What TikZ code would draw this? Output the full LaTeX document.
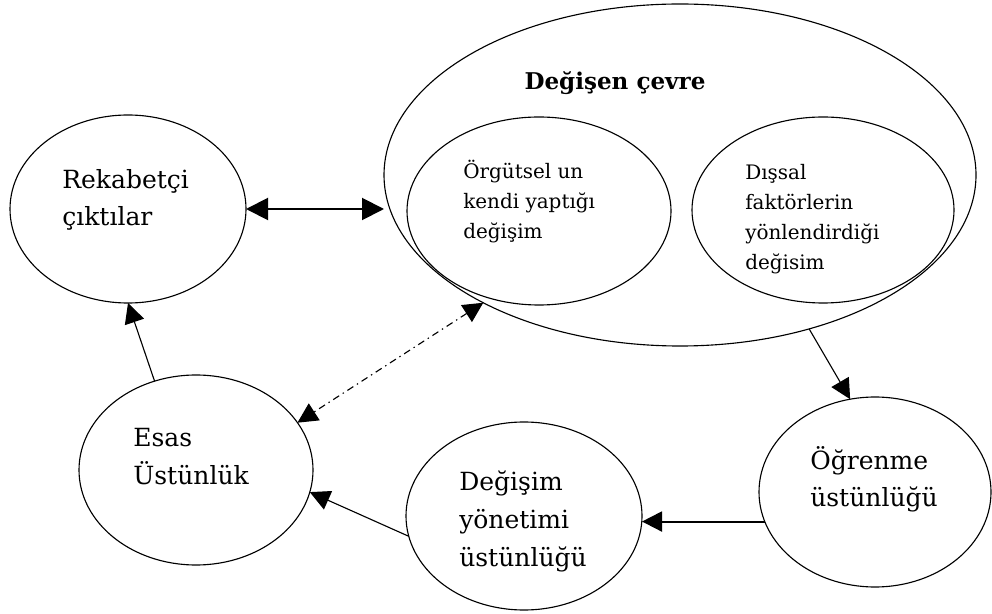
\documentclass[tikz,border=0pt]{standalone}
\usepackage{fontspec}
\setmainfont{DejaVu Serif}
\usetikzlibrary{shapes.geometric,arrows.meta}

\tikzset{
    oval/.style={draw,ellipse,line width=0.8pt,inner sep=0pt,outer sep=0pt},
    lbl/.style={anchor=north west,align=left,inner sep=0pt,font=\fontsize{17.8}{26.7}\selectfont},
    small/.style={anchor=north west,align=left,inner sep=0pt,font=\fontsize{14.2}{21.3}\selectfont},
    arr/.style={line width=0.8pt,-{Triangle[length=5mm,width=5mm]}},
    twoway/.style={line width=1.4pt,{Triangle[length=5.5mm,width=5.5mm]}-{Triangle[length=5.5mm,width=5.5mm]}}
}

\begin{document}
\begin{tikzpicture}
    \useasboundingbox (0,0) rectangle (24.8,15.325);
    % ellipses
    \node[oval,minimum width=5.9cm,minimum height=4.7cm] (rekabet) at (3.2,10.1) {};
    \node[oval,minimum width=14.8cm,minimum height=8.55cm] (cevre) at (17,10.95) {};
    \node[oval,minimum width=6.6cm,minimum height=4.7cm] (orgutsel) at (13.475,10.05) {};
    \node[oval,minimum width=6.55cm,minimum height=4.65cm] (dissal) at (20.575,10.075) {};
    \node[oval,minimum width=5.85cm,minimum height=4.75cm] (esas) at (4.9,3.575) {};
    \node[oval,minimum width=5.9cm,minimum height=4.7cm] (degisim) at (13.1,2.425) {};
    \node[oval,minimum width=5.8cm,minimum height=4.75cm] (ogrenme) at (21.875,3.025) {};

    % texts
    \node[lbl] (t-rekabet) at (1.55,11.1) {Rekabetçi\\çıktılar};
    \node[anchor=base,inner sep=0pt,font=\bfseries\fontsize{16.4}{20}\selectfont] (t-cevre) at (15.375,13.075) {Değişen çevre};
    \node[small] (t-orgutsel) at (11.575,11.325) {Örgütsel un\\kendi yaptığı\\değişim};
    \node[small] (t-dissal) at (18.625,11.225) {Dışsal\\faktörlerin\\yönlendirdiği\\değisim};
    \node[lbl] (t-esas) at (3.325,4.625) {Esas\\Üstünlük};
    \node[lbl] (t-degisim) at (11.475,3.55) {Değişim\\yönetimi\\üstünlüğü};
    \node[lbl] (t-ogrenme) at (20.25,4.175) {Öğrenme\\üstünlüğü};

    % arrows
    \draw[twoway] (rekabet.east) -- (rekabet.east -| cevre.west);
    \draw[arr] (esas.115) -- (rekabet.south);
    \draw[arr] (cevre.310) -- (ogrenme.105);
    \draw[arr,line width=1.4pt] (ogrenme.195) -- (ogrenme.195 -| degisim.east);
    \draw[arr] (degisim.190) -- (esas.349);
    \draw[line width=0.8pt,dash pattern=on 5pt off 3pt on 1pt off 3pt,{Triangle[length=5mm,width=5mm]}-{Triangle[length=5mm,width=5mm]}] (cevre.213) -- (esas.25);
\end{tikzpicture}
\end{document}
